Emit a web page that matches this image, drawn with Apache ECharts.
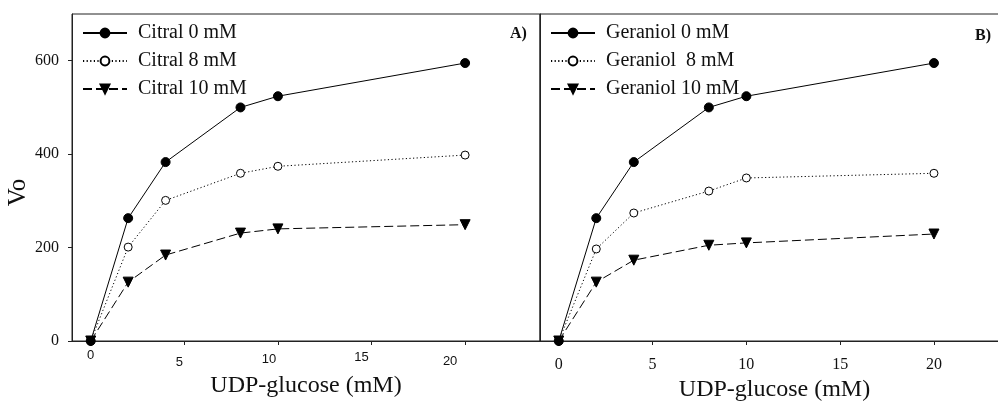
<!DOCTYPE html>
<html>
<head>
<meta charset="utf-8">
<script src="https://cdn.jsdelivr.net/npm/echarts@6/dist/echarts.min.js"></script>
<style>
  html, body { margin: 0; padding: 0; background: #fff; }
  #chart { width: 998px; height: 401px; }
</style>
</head>
<body>
<div id="chart"></div>
<script>
const xValues = [0, 2, 4, 8, 10, 20];
const citral0 = [0, 263, 383, 500, 524, 595];
const citral8 = [0, 201, 301, 359, 374, 398];
const citral10 = [0, 126, 184, 231, 240, 249];
const geraniol0 = [0, 263, 383, 500, 524, 595];
const geraniol8 = [0, 197, 274, 321, 349, 359];
const geraniol10 = [0, 126, 173, 205, 210, 229];
const xTicks = [0, 5, 10, 15, 20];
const yTicks = [0, 200, 400, 600];
const leftNames = ["Citral 0 mM", "Citral 8 mM", "Citral 10 mM"];
const rightNames = ["Geraniol 0 mM", "Geraniol  8 mM", "Geraniol 10 mM"];

const serif = "Liberation Serif";
const ink = "#111";

const pairs = (ys) => xValues.map((x, i) => [x, ys[i]]);

// three styles: filled circle / solid, open circle / dotted, down triangle / dashed
const styles = [
  { symbol: "circle", symbolSize: 9, lineType: "solid", fill: "#000" },
  { symbol: "circle", symbolSize: 8, lineType: [1.2, 2.4], fill: "#fff" },
  { symbol: "triangle", symbolSize: 10, symbolRotate: 180, lineType: [9, 4], fill: "#000" },
];

const makeSeries = (name, ys, k, idx) => ({
  name,
  type: "line",
  xAxisIndex: idx,
  yAxisIndex: idx,
  data: pairs(ys),
  symbol: styles[k].symbol,
  symbolSize: styles[k].symbolSize,
  symbolRotate: styles[k].symbolRotate || 0,
  showAllSymbol: true,
  lineStyle: { color: "#000", width: 1, type: styles[k].lineType },
  itemStyle: { color: styles[k].fill, borderColor: "#000", borderWidth: 1 },
  emphasis: { disabled: true },
  animation: false,
  z: 10 - k,
});

const legendBase = {
  orient: "vertical",
  padding: 0,
  itemWidth: 44,
  itemHeight: 11,
  itemGap: 8,
  textStyle: { fontFamily: serif, fontSize: 20, color: ink, padding: [0, 0, 0, 6] },
};

// left panel tick labels are a bit staggered in the original
const leftTickRich = {
  t0: { fontFamily: "Liberation Sans", fontSize: 13, color: ink, padding: [0, 0, 0, 0] },
  t5: { fontFamily: "Liberation Sans", fontSize: 13, color: ink, padding: [7, 10, 0, 0] },
  t10: { fontFamily: "Liberation Sans", fontSize: 13, color: ink, padding: [4, 18, 0, 0] },
  t15: { fontFamily: "Liberation Sans", fontSize: 13, color: ink, padding: [2, 20, 0, 0] },
  t20: { fontFamily: "Liberation Sans", fontSize: 13, color: ink, padding: [6, 30, 0, 0] },
};

const axisLine = { show: true, onZero: false, lineStyle: { color: "#222", width: 1 } };

const chart = echarts.init(document.getElementById("chart"));
chart.setOption({
  backgroundColor: "#fff",
  animation: false,
  grid: [
    { left: 72, top: 14, width: 468, height: 327, outerBoundsMode: "none", containLabel: false,
      show: true, borderColor: "#222", borderWidth: 1 },
    { left: 540, top: 14, width: 469, height: 327, outerBoundsMode: "none", containLabel: false,
      show: true, borderColor: "#222", borderWidth: 1 },
  ],
  xAxis: [
    {
      type: "value", gridIndex: 0, min: -1, max: 24,
      name: "UDP-glucose (mM)", nameLocation: "middle", nameGap: 30,
      nameTextStyle: { fontFamily: serif, fontSize: 24, color: ink },
      axisLine,
      splitLine: { show: false },
      axisTick: { show: true, length: 4, customValues: xTicks, lineStyle: { color: "#222" } },
      axisLabel: {
        customValues: xTicks, margin: 8,
        formatter: (v) => "{t" + v + "|" + v + "}",
        rich: leftTickRich,
      },
    },
    {
      type: "value", gridIndex: 1, min: -1, max: 24,
      name: "UDP-glucose (mM)", nameLocation: "middle", nameGap: 33,
      nameTextStyle: { fontFamily: serif, fontSize: 24, color: ink },
      axisLine,
      splitLine: { show: false },
      axisTick: { show: true, length: 4, customValues: xTicks, lineStyle: { color: "#222" } },
      axisLabel: { customValues: xTicks, margin: 16, fontFamily: serif, fontSize: 16, color: ink },
    },
  ],
  yAxis: [
    {
      type: "value", gridIndex: 0, min: 0, max: 700,
      name: "Vo", nameLocation: "middle", nameRotate: 90, nameGap: 40,
      nameTextStyle: { fontFamily: serif, fontSize: 25, color: ink, padding: [0, 30, 0, 0] },
      axisLine,
      splitLine: { show: false },
      axisTick: { show: true, length: 4, customValues: yTicks, lineStyle: { color: "#222" } },
      axisLabel: { customValues: yTicks, margin: 13, fontFamily: serif, fontSize: 16, color: ink },
    },
    {
      type: "value", gridIndex: 1, min: 0, max: 700,
      axisLine,
      splitLine: { show: false },
      axisTick: { show: false },
      axisLabel: { show: false },
    },
  ],
  legend: [
    Object.assign({}, legendBase, { left: 82, top: 23, data: leftNames }),
    Object.assign({}, legendBase, { left: 550, top: 23, data: rightNames }),
  ],
  graphic: [
    { type: "text", left: 510, top: 26, style: { text: "A)", font: "bold 16px Liberation Serif", fill: ink } },
    { type: "text", left: 975, top: 28, style: { text: "B)", font: "bold 16px Liberation Serif", fill: ink } },
  ],
  series: [
    makeSeries(leftNames[0], citral0, 0, 0),
    makeSeries(leftNames[1], citral8, 1, 0),
    makeSeries(leftNames[2], citral10, 2, 0),
    makeSeries(rightNames[0], geraniol0, 0, 1),
    makeSeries(rightNames[1], geraniol8, 1, 1),
    makeSeries(rightNames[2], geraniol10, 2, 1),
  ],
});
</script>
</body>
</html>
